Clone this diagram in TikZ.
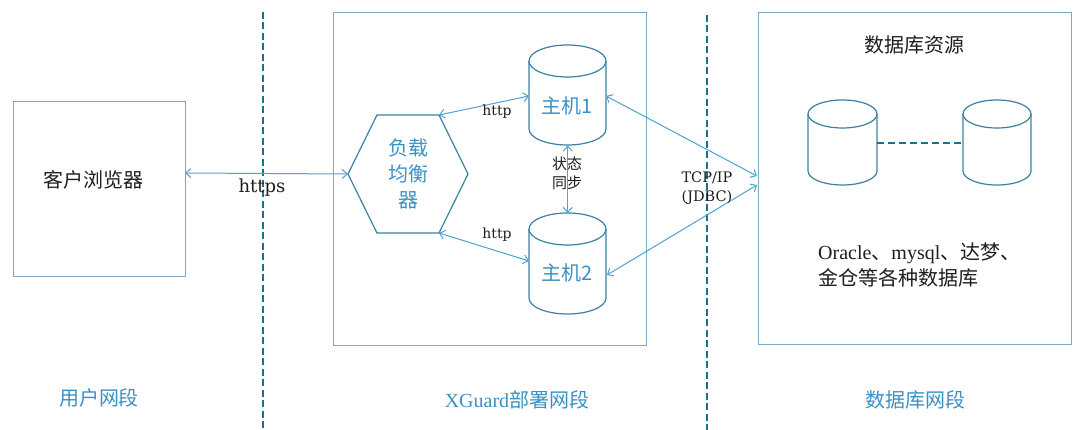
\documentclass[tikz,border=0pt]{standalone}
\usepackage{fontspec}
\setmainfont{Liberation Serif}
\newfontfamily\cjk{Noto Sans CJK SC}
\newfontfamily\dserif{DejaVu Serif}
\usetikzlibrary{arrows.meta}
\definecolor{boxc}{HTML}{7AAABD}
\definecolor{arrc}{HTML}{4FA3CC}
\definecolor{dashc}{HTML}{1F6F8B}
\definecolor{cylc}{HTML}{3B82A0}
\definecolor{bluet}{HTML}{3A92C4}
\definecolor{textc}{HTML}{1E1E1E}
\begin{document}
\begin{tikzpicture}[x=1pt,y=-1pt,
  zone/.style={draw=boxc, line width=1.2pt, anchor=north west, inner sep=0},
  sep/.style={draw=dashc, line width=2.5pt, dash pattern=on 7pt off 3.5pt},
  link/.style={draw=arrc, line width=1pt, {Straight Barb[length=5pt,width=9pt]}-{Straight Barb[length=5pt,width=9pt]}},
  cyl/.style={draw=cylc, line width=1.2pt},
  ghost/.style={inner sep=0, anchor=north west},
  cjkbig/.style={font=\cjk\fontsize{20}{26}\selectfont, inner sep=0},
  lat/.style={font=\dserif\fontsize{14}{18}\selectfont, text=textc, inner sep=0},
  cjksmall/.style={font=\cjk\fontsize{15}{19}\selectfont, text=textc, inner sep=0}
]
\useasboundingbox[fill=white] (0,0) rectangle (1080,430);

% zones
\node[zone, minimum width=172pt, minimum height=175pt] (client) at (13,101) {};
\node[zone, minimum width=313pt, minimum height=333pt] (xg) at (333,12) {};
\node[zone, minimum width=313pt, minimum height=332pt] (dbz) at (758,12) {};
\node[cjkbig, text=textc] (clientt) at (93,180) {客户浏览器};

% separators
\coordinate (s1a) at (263,12); \coordinate (s1b) at (263,430);
\coordinate (s2a) at (707,15); \coordinate (s2b) at (707,430);
\draw[sep] (s1a) -- (s1b);
\draw[sep] (s2a) -- (s2b);

% hexagon
\coordinate (hexL) at (348,174);
\coordinate (hexTL) at (377,115);
\coordinate (hexTR) at (439,115);
\coordinate (hexR) at (468,174);
\coordinate (hexBR) at (439,233);
\coordinate (hexBL) at (377,233);
\draw[cyl] (hexL) -- (hexTL) -- (hexTR) -- (hexR) -- (hexBR) -- (hexBL) -- cycle;
\node[cjkbig, text=bluet, align=center] (lb) at (408,174) {负载\\均衡\\器};

% hosts
\node[ghost, minimum width=77pt, minimum height=100pt] (h1) at (529,45) {};
\node[ghost, minimum width=77pt, minimum height=101pt] (h2) at (529,213) {};
\draw[cyl] (567.5,61) ellipse [x radius=38.5, y radius=16];
\draw[cyl] (529,61) -- (529,129) arc[start angle=180, end angle=0, x radius=38.5, y radius=16] -- (606,61);
\draw[cyl] (567.5,229) ellipse [x radius=38.5, y radius=16];
\draw[cyl] (529,229) -- (529,298) arc[start angle=180, end angle=0, x radius=38.5, y radius=16] -- (606,229);
\node[cjkbig, text=bluet] (h1t) at (567.5,106) {主机1};
\node[cjkbig, text=bluet] (h2t) at (567.5,273) {主机2};

% databases
\node[ghost, minimum width=69pt, minimum height=85pt] (db1) at (808,100) {};
\node[ghost, minimum width=68pt, minimum height=85pt] (db2) at (963,100) {};
\draw[cyl] (842.5,114) ellipse [x radius=34.5, y radius=14];
\draw[cyl] (808,114) -- (808,171) arc[start angle=180, end angle=0, x radius=34.5, y radius=14] -- (877,114);
\draw[cyl] (997,114) ellipse [x radius=34, y radius=14];
\draw[cyl] (963,114) -- (963,171) arc[start angle=180, end angle=0, x radius=34, y radius=14] -- (1031,114);
\coordinate (db1e) at (877,143);
\coordinate (db2w) at (963,143);
\draw[draw=dashc, line width=2pt, dash pattern=on 7pt off 4pt] (db1e) -- (db2w);

% connectors
\coordinate (cl) at (185,173);
\draw[link] (cl) -- (hexL);
\coordinate (h1w) at (529,96);
\coordinate (h2w) at (529,261);
\draw[link] (hexTR) -- (h1w);
\draw[link] (hexBR) -- (h2w);
\draw[link] (h1.south) -- (h2.north);
\coordinate (h1e) at (606,96);
\coordinate (h2e) at (607,275);
\coordinate (tcpA) at (757,176);
\coordinate (tcpB) at (757,185);
\draw[link] (h1e) -- (tcpA);
\draw[link] (tcpB) -- (h2e);

% labels
\node[font=\dserif\fontsize{18}{22}\selectfont, text=textc, inner sep=0] (https) at (262,188) {https};
\node[lat] (http1) at (497,112) {http};
\node[lat] (http2) at (497,235) {http};
\node[cjksmall, align=center] (sync) at (567,173) {状态\\同步};
\node[lat, align=center, font=\dserif\fontsize{14.5}{19}\selectfont] (tcp) at (707,188) {TCP/IP\\(JDBC)};
\node[cjkbig, text=textc] (dbres) at (914,45) {数据库资源};
\node[cjkbig, text=textc, anchor=west, align=left] (dblist) at (818,264.5)
  {{\rmfamily Oracle}、{\rmfamily mysql}、达梦、\\金仓等各种数据库};

% zone titles
\node[cjkbig, text=bluet] (z1) at (99,398) {用户网段};
\node[cjkbig, text=bluet] (z2) at (517,400) {{\rmfamily XGuard}部署网段};
\node[cjkbig, text=bluet] (z3) at (915,400) {数据库网段};
\end{tikzpicture}
\end{document}
